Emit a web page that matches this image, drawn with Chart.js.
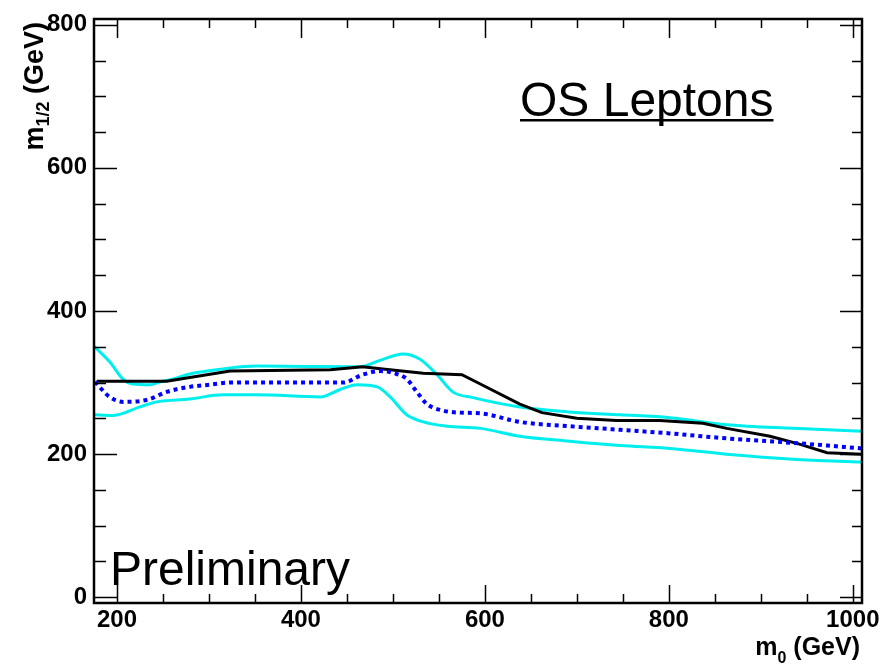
<!DOCTYPE html>
<html>
<head>
<meta charset="utf-8">
<script src="https://cdn.jsdelivr.net/npm/chart.js@4.4.1/dist/chart.umd.min.js"></script>
<style>
  html, body { margin: 0; padding: 0; background: #fff; }
  #wrap { width: 895px; height: 666px; position: relative; }
</style>
</head>
<body>
<div id="wrap"><canvas id="grafico"></canvas></div>
<script>
// valores (m0, m1/2 em GeV)
const obsM0  = [178, 254, 323, 432, 467, 489, 533, 575, 595, 638, 662, 700, 743, 790, 837, 863, 910, 942, 972, 1010];
const obsM12 = [302, 302, 316, 318, 322, 319, 313, 311, 298, 270, 258, 250, 247, 247, 243, 236, 225, 214, 202, 200];

const expM0  = [176, 192, 207, 233, 254, 279, 301, 323, 446, 467, 486, 504, 515, 526, 537, 554, 573, 595, 638, 692, 747, 801, 863, 910, 953, 1010];
const expM12 = [301, 280, 273, 276, 287, 294, 297, 300, 300, 311, 316, 312, 305, 287, 270, 261, 258, 257, 245, 239, 234, 229, 222, 218, 214, 208];

const upM0  = [174, 192, 207, 217, 236, 247, 261, 279, 315, 352, 464, 486, 511, 529, 548, 565, 587, 638, 692, 747, 801, 863, 935, 1010];
const upM12 = [352, 329, 304, 298, 297, 301, 305, 312, 319, 323, 322, 331, 340, 333, 311, 287, 279, 266, 259, 255, 251, 241, 236, 232];

const loM0  = [174, 196, 225, 243, 279, 315, 352, 421, 442, 461, 483, 497, 515, 533, 559, 595, 638, 692, 747, 801, 863, 935, 1010];
const loM12 = [255, 254, 266, 273, 277, 283, 283, 280, 290, 297, 294, 280, 255, 245, 239, 236, 225, 218, 212, 208, 200, 193, 189];

const xTicks = [200, 400, 600, 800, 1000];
const yTicks = [0, 200, 400, 600, 800];

const fonte = '"Liberation Sans", Arial, Helvetica, sans-serif';

function pares(xs, ys) {
    return xs.map((x, i) => ({ x: x, y: ys[i] }));
}

// moldura com marcas nos quatro lados, titulos e textos
const molduraPlugin = {
    id: 'moldura',
    afterDraw(chart) {
        const ctx = chart.ctx;
        const a = chart.chartArea;
        const sx = chart.scales.x, sy = chart.scales.y;
        ctx.save();
        ctx.strokeStyle = '#000';
        ctx.lineWidth = 1.5;
        ctx.beginPath();
        for (let v = 200; v <= sx.max; v += 50) {
            const px = Math.round(sx.getPixelForValue(v)) + 0.5;
            const major = v % 200 === 0;
            ctx.moveTo(px, a.bottom); ctx.lineTo(px, a.bottom - (major ? 18 : 9));
            ctx.moveTo(px, a.top); ctx.lineTo(px, a.top + (major ? 19 : 9));
        }
        for (let v = 0; v <= sy.max; v += 50) {
            const py = Math.round(sy.getPixelForValue(v)) + 0.5;
            const major = v % 200 === 0;
            ctx.moveTo(a.left, py); ctx.lineTo(a.left + (major ? 23 : 12), py);
            ctx.moveTo(a.right, py); ctx.lineTo(a.right - (major ? 22 : 10), py);
        }
        ctx.stroke();

        ctx.lineWidth = 2.5;
        ctx.strokeRect(a.left, a.top, a.right - a.left, a.bottom - a.top);

        // titulo eixo x
        ctx.fillStyle = '#000';
        ctx.textBaseline = 'alphabetic';
        ctx.font = 'bold 16px ' + fonte;
        const w0 = ctx.measureText('0').width;
        const w12 = ctx.measureText('1/2').width;
        ctx.font = 'bold 25px ' + fonte;
        const wm = ctx.measureText('m').width;
        const wr = ctx.measureText(' (GeV)').width;
        let x0 = a.right - 2 - (wm + w0 + wr);
        ctx.fillText('m', x0, 655);
        ctx.fillText(' (GeV)', x0 + wm + w0, 655);
        ctx.font = 'bold 16px ' + fonte;
        ctx.fillText('0', x0 + wm, 663);

        // titulo eixo y
        ctx.save();
        ctx.translate(43, 0);
        ctx.rotate(-Math.PI / 2);
        ctx.font = 'bold 18px ' + fonte;
        const w12y = ctx.measureText('1/2').width;
        ctx.font = 'bold 27px ' + fonte;
        const wmy = ctx.measureText('m').width;
        const wry = ctx.measureText(' (GeV)').width;
        let y0 = -(a.top + 3) - (wmy + w12y + wry);
        ctx.fillText('m', y0, 0);
        ctx.fillText(' (GeV)', y0 + wmy + w12y, 0);
        ctx.font = 'bold 18px ' + fonte;
        ctx.fillText('1/2', y0 + wmy, 6);
        ctx.restore();

        // textos dentro do grafico
        ctx.font = '48px ' + fonte;
        ctx.fillText('OS Leptons', 520, 116);
        const wl = ctx.measureText('OS Leptons').width;
        ctx.fillRect(520, 119, wl, 2.5);
        ctx.fillText('Preliminary', 110, 585);
        ctx.restore();
    }
};

const ctx = document.getElementById('grafico');
new Chart(ctx, {
    type: 'scatter',
    data: {
        datasets: [
            { label: 'Expected', data: pares(expM0, expM12), showLine: true, borderColor: '#0000ff',
              borderWidth: 4, borderDash: [4, 4], pointRadius: 0, cubicInterpolationMode: 'monotone' },
            { label: 'Observed', data: pares(obsM0, obsM12), showLine: true, borderColor: '#000000',
              borderWidth: 3, pointRadius: 0, tension: 0 },
            { label: 'Expected +1 sigma', data: pares(upM0, upM12), showLine: true, borderColor: '#00eeee',
              borderWidth: 3, pointRadius: 0, cubicInterpolationMode: 'monotone' },
            { label: 'Expected -1 sigma', data: pares(loM0, loM12), showLine: true, borderColor: '#00eeee',
              borderWidth: 3, pointRadius: 0, cubicInterpolationMode: 'monotone' }
        ]
    },
    options: {
        responsive: true,
        maintainAspectRatio: false,
        animation: false,
        layout: { padding: { top: 14, right: 33, left: 0, bottom: 0 } },
        plugins: { legend: { display: false }, tooltip: { enabled: false } },
        scales: {
            x: {
                type: 'linear', min: 175, max: 1010,
                grid: { display: false, drawTicks: false },
                border: { display: false },
                afterFit: s => { s.height = 63; },
                afterBuildTicks: s => { s.ticks = xTicks.map(v => ({ value: v })); },
                ticks: { padding: 5, color: '#000', callback: v => String(v),
                         font: { family: fonte, weight: 'bold', size: 24, lineHeight: 1 } }
            },
            y: {
                type: 'linear', min: -8, max: 808,
                grid: { display: false, drawTicks: false },
                border: { display: false },
                afterFit: s => { s.width = 94; },
                afterBuildTicks: s => { s.ticks = yTicks.map(v => ({ value: v })); },
                ticks: { padding: 7, color: '#000', callback: v => String(v),
                         font: { family: fonte, weight: 'bold', size: 24, lineHeight: 1 } }
            }
        }
    },
    plugins: [molduraPlugin]
});
</script>
</body>
</html>
